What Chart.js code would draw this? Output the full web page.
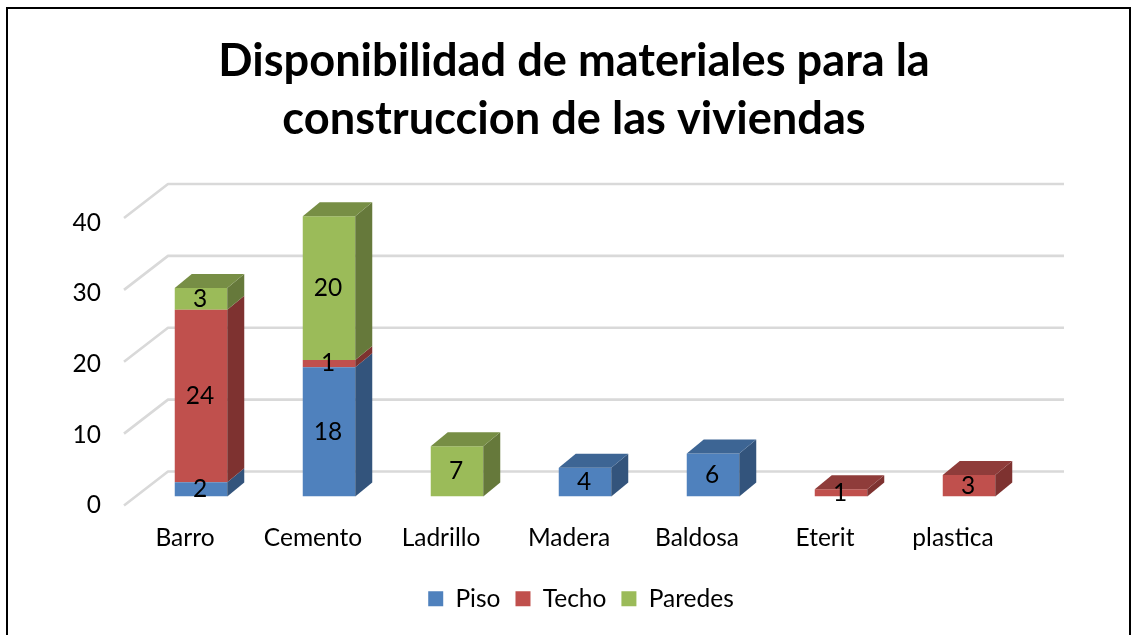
<!DOCTYPE html>
<html><head><meta charset="utf-8">
<style>html,body{margin:0;padding:0;background:#fff}canvas{display:block}</style>
<script src="https://cdn.jsdelivr.net/npm/chart.js@4"></script>
</head><body>
<canvas id="c" width="1138" height="635"></canvas>
<script>
const titleLines = ['Disponibilidad de materiales para la', 'construccion de las viviendas'];
const categories = ['Barro', 'Cemento', 'Ladrillo', 'Madera', 'Baldosa', 'Eterit', 'plastica'];
const piso = [2, 18, null, 4, 6, null, null];
const techo = [24, 1, null, null, null, 1, 3];
const paredes = [3, 20, 7, null, null, null, null];
const FONT = 'Lato, Carlito, sans-serif';
const DX = 17, DY = 14;
const shades = [
  {front:'#4F81BD', side:'#33547C', top:'#3D6594'},
  {front:'#C0504D', side:'#7E3230', top:'#8F3C3A'},
  {front:'#9BBB59', side:'#66793B', top:'#778E45'}
];
const frame3d = {
  id:'frame3d',
  afterLayout(chart){
    chart.legend.left+=7; chart.legend.right+=7;
  },
  beforeDatasetsDraw(chart){
    const {ctx, chartArea:a, scales:{y}} = chart;
    ctx.save();
    ctx.strokeStyle='#D9D9D9'; ctx.lineWidth=2.6; ctx.lineJoin='round';
    [0,10,20,30,40].forEach(v=>{
      const p=y.getPixelForValue(v);
      ctx.beginPath();
      ctx.moveTo(a.left-13,p+9);
      ctx.lineTo(a.left+31,p-25);
      ctx.lineTo(a.right+31,p-25);
      ctx.stroke();
    });
    ctx.restore();
  },
  afterDatasetsDraw(chart){
    const {ctx} = chart;
    ctx.save();
    const n=chart.data.datasets.length;
    for(let d=0;d<n;d++){
      chart.getDatasetMeta(d).data.forEach((bar,i)=>{
        const val=chart.data.datasets[d].data[i];
        if(val==null) return;
        const {x,y,base,width}=bar.getProps(['x','y','base','width'],true);
        const L=x-width/2,R=x+width/2;
        ctx.fillStyle=shades[d].side;
        ctx.beginPath();
        ctx.moveTo(R,y);ctx.lineTo(R+DX,y-DY);ctx.lineTo(R+DX,base-DY);ctx.lineTo(R,base);
        ctx.closePath();ctx.fill();
        let last=true;
        for(let k=d+1;k<n;k++) if(chart.data.datasets[k].data[i]!=null) last=false;
        if(last){
          ctx.fillStyle=shades[d].top;
          ctx.beginPath();
          ctx.moveTo(L,y);ctx.lineTo(L+DX,y-DY);ctx.lineTo(R+DX,y-DY);ctx.lineTo(R,y);
          ctx.closePath();ctx.fill();
        }
      });
    }
    ctx.fillStyle='#000';ctx.font='24.5px '+FONT;ctx.textAlign='center';ctx.textBaseline='middle';
    for(let d=0;d<n;d++){
      chart.getDatasetMeta(d).data.forEach((bar,i)=>{
        const val=chart.data.datasets[d].data[i];
        if(val==null) return;
        const {x,y,base}=bar.getProps(['x','y','base'],true);
        ctx.fillText(String(val),x-1,(y+base)/2);
      });
    }
    ctx.restore();
  },
  afterDraw(chart){
    const {ctx}=chart;
    ctx.save();
    ctx.strokeStyle='#000';ctx.lineWidth=2;
    ctx.beginPath();
    ctx.moveTo(7,640);ctx.lineTo(7,8);ctx.lineTo(1130,8);ctx.lineTo(1130,640);
    ctx.stroke();
    ctx.restore();
  }
};
new Chart(document.getElementById('c'),{
  type:'bar',
  data:{labels:categories,datasets:[
    {label:'Piso',data:piso,backgroundColor:shades[0].front,yAxisID:'y'},
    {label:'Techo',data:techo,backgroundColor:shades[1].front,yAxisID:'y'},
    {label:'Paredes',data:paredes,backgroundColor:shades[2].front,yAxisID:'y'}
  ]},
  plugins:[frame3d],
  options:{
    responsive:false,animation:false,
    layout:{padding:{left:10,right:0,top:0,bottom:14}},
    datasets:{bar:{categoryPercentage:1,barPercentage:52.5/128}},
    plugins:{
      title:{display:true,text:titleLines,color:'#000',
        font:{family:FONT,size:45.2,weight:'bold',lineHeight:58/45.2},
        padding:{top:32,bottom:61}},
      legend:{position:'bottom',
        labels:{color:'#000',font:{family:FONT,size:24.5},boxWidth:15,boxHeight:15,padding:15}},
      tooltip:{enabled:false}
    },
    scales:{
      x:{stacked:true,grid:{display:false},border:{display:false},
        afterFit(s){s.height=75;},
        ticks:{color:'#000',font:{family:FONT,size:24.5},padding:19,labelOffset:-16,maxRotation:0,autoSkip:false}},
      y:{stacked:true,display:false,min:0,max:40},
      yt:{position:'left',min:0,max:40.7,grid:{display:false},border:{display:false},
        afterFit(s){s.width=127;},
        ticks:{color:'#000',font:{family:FONT,size:24.5},padding:28,stepSize:10,labelOffset:9,includeBounds:false}},
      yr:{position:'right',min:0,max:40,grid:{display:false},border:{display:false},
        afterFit(s){s.width=105;},
        ticks:{display:false}}
    }
  }
});
</script>
</body></html>
